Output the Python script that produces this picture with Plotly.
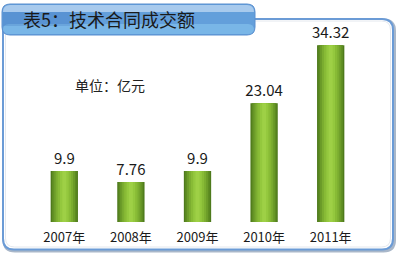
import plotly.graph_objects as go

years = ["2007年", "2008年", "2009年", "2010年", "2011年"]
values = [9.9, 7.76, 9.9, 23.04, 34.32]
value_labels = ["9.9", "7.76", "9.9", "23.04", "34.32"]
title_text = "表5：技术合同成交额"
unit_text = "单位：亿元"

W, H = 400, 255
FONT = "Noto Sans CJK SC"

def px(x):
    return x / W

def py(y):
    return 1 - y / H

def rrect(x0, y0, x1, y1, r):
    pts = [
        f"M {px(x0 + r)},{py(y0)}",
        f"L {px(x1 - r)},{py(y0)}",
        f"Q {px(x1)},{py(y0)} {px(x1)},{py(y0 + r)}",
        f"L {px(x1)},{py(y1 - r)}",
        f"Q {px(x1)},{py(y1)} {px(x1 - r)},{py(y1)}",
        f"L {px(x0 + r)},{py(y1)}",
        f"Q {px(x0)},{py(y1)} {px(x0)},{py(y1 - r)}",
        f"L {px(x0)},{py(y0 + r)}",
        f"Q {px(x0)},{py(y0)} {px(x0 + r)},{py(y0)}",
        "Z",
    ]
    return " ".join(pts)

def toprect(x0, y0, x1, y1, r):
    pts = [
        f"M {px(x0 + r)},{py(y0)}",
        f"L {px(x1 - r)},{py(y0)}",
        f"Q {px(x1)},{py(y0)} {px(x1)},{py(y0 + r)}",
        f"L {px(x1)},{py(y1)}",
        f"L {px(x0)},{py(y1)}",
        f"L {px(x0)},{py(y0 + r)}",
        f"Q {px(x0)},{py(y0)} {px(x0 + r)},{py(y0)}",
        "Z",
    ]
    return " ".join(pts)

fig = go.Figure()

# layered bars to imitate the cylindrical gradient
layers = [
    (0.41, "#4e7a1c"),
    (0.37, "#5d8b22"),
    (0.32, "#6c9c29"),
    (0.26, "#7bad30"),
    (0.20, "#88bb36"),
    (0.13, "#94c83e"),
    (0.06, "#9ed046"),
]
xs = list(range(len(years)))
for i, (w, c) in enumerate(layers):
    fig.add_trace(go.Bar(
        x=xs, y=values, width=w,
        marker=dict(color=c, line=dict(width=0)),
        text=value_labels if i == 0 else None,
        textposition="outside" if i == 0 else "none",
        constraintext="none",
        textfont=dict(family=FONT, size=15, color="#1a1a1a"),
        cliponaxis=False,
        hoverinfo="skip",
        showlegend=False,
    ))

shapes = []
# frame shadow + border
shapes.append(dict(type="path", xref="paper", yref="paper", layer="below",
                   path=rrect(4, 20, 394.5, 251, 11),
                   line=dict(color="#a9b7c9", width=3), fillcolor="white"))
shapes.append(dict(type="path", xref="paper", yref="paper", layer="below",
                   path=rrect(3, 19, 393, 249.5, 11),
                   line=dict(color="#6b9bd6", width=2), fillcolor="white"))
shapes.append(dict(type="path", xref="paper", yref="paper", layer="below",
                   path=rrect(5.5, 21, 390.5, 247, 9),
                   line=dict(color="#e4e8ee", width=1), fillcolor="rgba(0,0,0,0)"))
# title tab
shapes.append(dict(type="path", xref="paper", yref="paper", layer="below",
                   path=rrect(2, 4, 255, 35, 8),
                   line=dict(color="#5b8fcf", width=1), fillcolor="#639fdb"))
shapes.append(dict(type="path", xref="paper", yref="paper", layer="below",
                   path=rrect(3, 24, 254, 34, 6),
                   line=dict(width=0), fillcolor="rgba(140,200,240,0.55)"))
shapes.append(dict(type="path", xref="paper", yref="paper", layer="below",
                   path=toprect(3, 5, 254, 12, 7),
                   line=dict(width=0), fillcolor="rgba(215,232,248,0.6)"))
shapes.append(dict(type="rect", xref="paper", yref="paper", layer="below",
                   x0=px(3), x1=px(70), y0=py(12), y1=py(26),
                   line=dict(width=0), fillcolor="rgba(50,100,180,0.2)"))

annotations = [
    dict(text=title_text, xref="paper", yref="paper", x=px(21), y=py(19),
         xanchor="left", yanchor="middle", showarrow=False,
         font=dict(family=FONT, size=18, color="#1a1a1a")),
    dict(text=unit_text, xref="paper", yref="paper", x=px(73), y=py(85),
         xanchor="left", yanchor="middle", showarrow=False,
         font=dict(family=FONT, size=14, color="#222222")),
]

fig.update_layout(
    width=W, height=H,
    margin=dict(l=0, r=0, t=0, b=0),
    paper_bgcolor="white",
    plot_bgcolor="rgba(0,0,0,0)",
    barmode="overlay",
    shapes=shapes,
    annotations=annotations,
    xaxis=dict(domain=[31 / W, 364 / W], range=[-0.5, 4.5],
               tickvals=xs, ticktext=years, showgrid=False, zeroline=False,
               showline=False, ticks="", ticklabelstandoff=6,
               tickfont=dict(family=FONT, size=13, color="#1a1a1a"),
               fixedrange=True),
    yaxis=dict(domain=[33 / H, 239 / H], range=[0, 40], visible=False,
               fixedrange=True),
    showlegend=False,
)

fig.write_html("out.html")
